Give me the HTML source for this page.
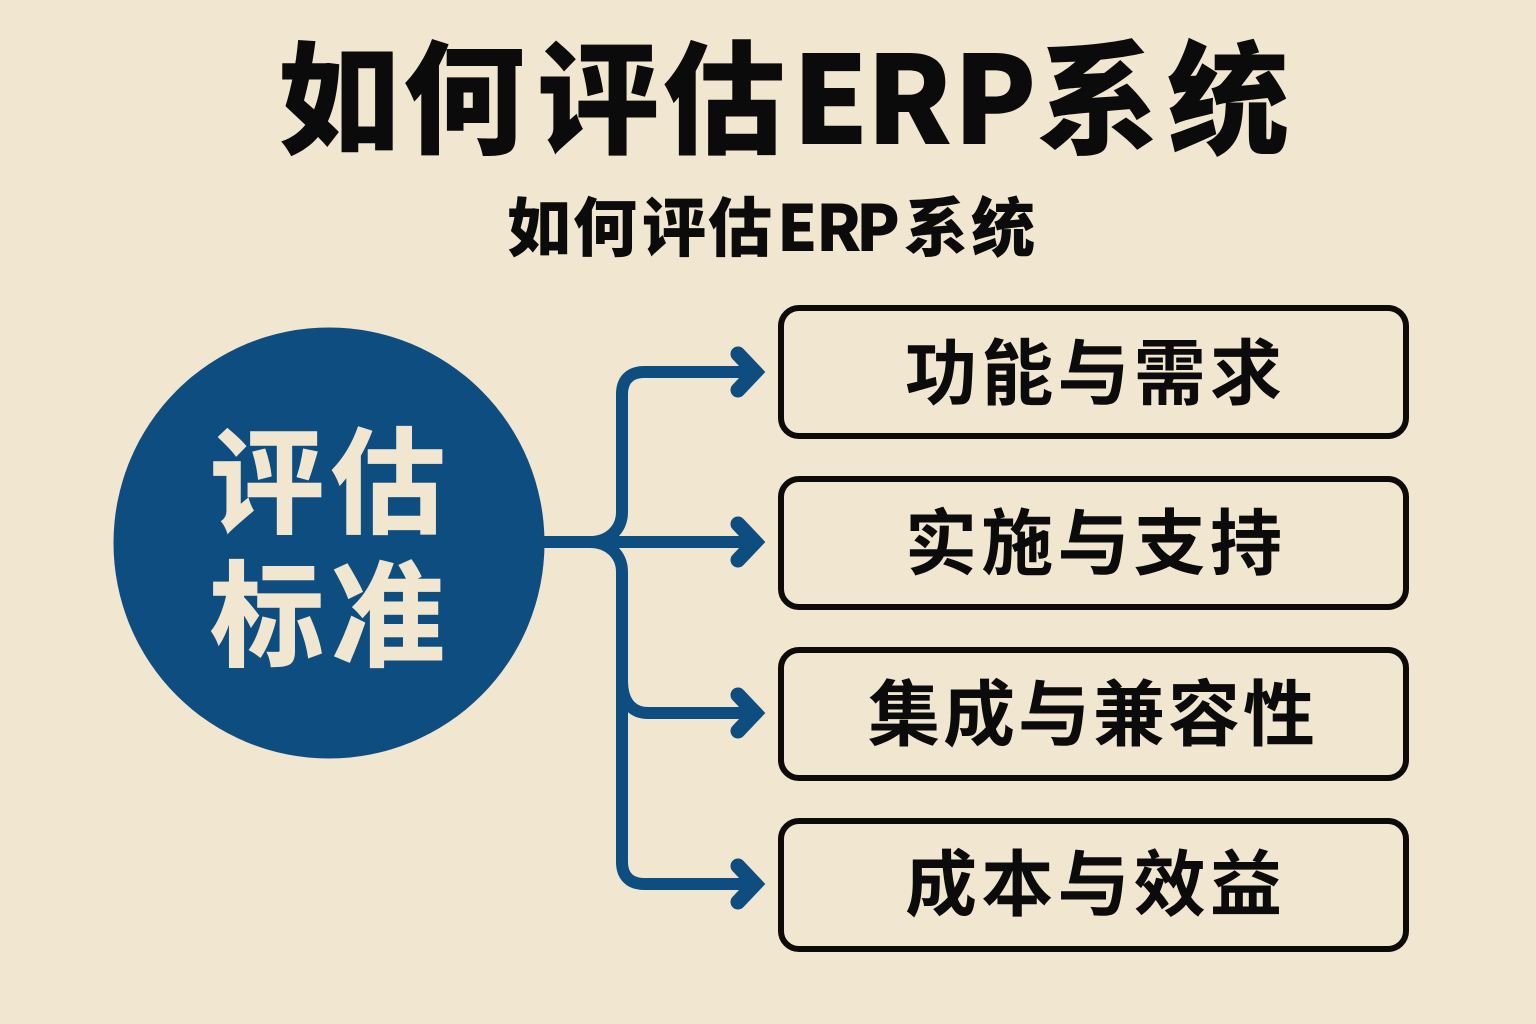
<!DOCTYPE html>
<html lang="zh">
<head>
<meta charset="utf-8">
<style>
html,body{margin:0;padding:0;background:#f1e6d0;}
svg{display:block;}
text{font-family:"Noto Sans CJK SC","Liberation Sans",sans-serif;font-weight:700;}
</style>
</head>
<body>
<svg width="1536" height="1024" viewBox="0 0 1536 1024" xmlns="http://www.w3.org/2000/svg">
<rect width="1536" height="1024" fill="#f1e6d0"/>
<text x="278 403 537 663 792 866 953 1037 1167" y="144" font-size="122" fill="#0b0b0b" style="font-weight:900">如何评估ERP系统</text>
<text x="507 573 642 708 777 816 856 904 971" y="251" font-size="64" fill="#0b0b0b" style="font-weight:900">如何评估ERP系统</text>

<circle cx="329" cy="543" r="215.5" fill="#0e4d7f"/>
<g font-size="114" fill="#f1e6d0" stroke="#f1e6d0" stroke-width="1.5">
<text x="210" y="524" textLength="235" lengthAdjust="spacing">评估</text>
<text x="210" y="657" textLength="235" lengthAdjust="spacing">标准</text>
</g>

<g fill="none" stroke="#0e4d7f" stroke-width="12">
<path d="M544 542H590C608 542 622 530 622 512V394C622 380 630 372 644 372H750"/>
<path d="M590 542C608 542 622 554 622 572V862C622 876 630 884 644 884H750"/>
<path d="M600 542H750"/>
<path d="M622 680C622 702 632 713 648 713H750"/>
</g>
<g fill="none" stroke="#0e4d7f" stroke-width="15" stroke-linecap="round" stroke-linejoin="miter">
<path d="M738 354L755 372L738 390"/>
<path d="M738 524L755 542L738 560"/>
<path d="M738 695L755 713L738 731"/>
<path d="M738 866L755 884L738 902"/>
</g>

<g fill="#f1e6d0" stroke="#0d0b09" stroke-width="6">
<rect x="781" y="308" width="625" height="128" rx="18"/>
<rect x="781" y="479" width="625" height="128" rx="18"/>
<rect x="781" y="650" width="625" height="128" rx="18"/>
<rect x="781" y="821" width="625" height="128" rx="18"/>
</g>
<g font-size="72" fill="#0b0b0b" style="font-weight:900">
<text x="905" y="399" textLength="377" lengthAdjust="spacing">功能与需求</text>
<text x="905" y="569" textLength="377" lengthAdjust="spacing">实施与支持</text>
<text x="868" y="740" textLength="447" lengthAdjust="spacing">集成与兼容性</text>
<text x="905" y="910" textLength="377" lengthAdjust="spacing">成本与效益</text>
</g>
</svg>
</body>
</html>
